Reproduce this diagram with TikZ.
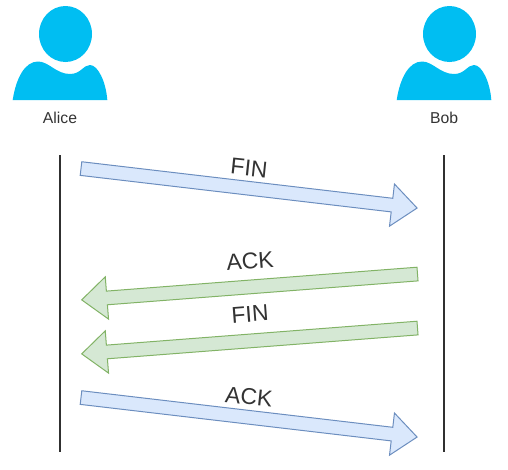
\documentclass[tikz,border=0pt]{standalone}
\usepackage{fontspec}
\setmainfont{Liberation Sans}
\usetikzlibrary{shapes.arrows}
\definecolor{pessoa}{HTML}{00BEF2}
\definecolor{azulfill}{HTML}{DAE8FC}
\definecolor{azuldraw}{HTML}{6C8EBF}
\definecolor{verdefill}{HTML}{D5E8D4}
\definecolor{verdedraw}{HTML}{82B366}
\definecolor{linha}{HTML}{303030}
\begin{document}
\begin{tikzpicture}[
    x=0.25mm, y=-0.25mm,
    seta/.style={single arrow, anchor=tail, inner sep=1.5mm, minimum height=84.6mm,
      minimum width=10.6mm, single arrow head extend=3.4mm, single arrow tip angle=80,
      single arrow head indent=0pt, line width=0.25mm},
    setaazul/.style={seta, draw=azuldraw, fill=azulfill, rotate=-6.7},
    setaverde/.style={seta, draw=verdedraw, fill=verdefill, rotate=184.4, minimum height=84.2mm},
    rotulo/.style={font=\fontsize{16.3pt}{18pt}\selectfont, text=black!80, inner sep=1pt},
    nome/.style={font=\fontsize{11.2pt}{13pt}\selectfont, text=black!80, inner sep=1pt},
    vida/.style={line width=0.7mm, color=linha},
  ]
  \useasboundingbox (0,0) rectangle (508,469);

  % Pessoas
  \foreach \dx/\id/\texto in {0/alice/Alice,384/bob/Bob} {
    \fill[pessoa] (65.5+\dx,34) ellipse [x radius=26.5, y radius=28];
    \fill[pessoa] (12.7+\dx,100) .. controls (16+\dx,78) and (25+\dx,61.5) .. (38+\dx,61.5)
      .. controls (49+\dx,61.5) and (56+\dx,74) .. (70+\dx,74)
      .. controls (81+\dx,74) and (83+\dx,65) .. (90+\dx,65)
      .. controls (98+\dx,65) and (106+\dx,82) .. (107.3+\dx,100) -- cycle;
    \node[nome] (\id) at (60+\dx,118) {\texto};
    \coordinate (\id-topo) at (60+\dx,155);
    \coordinate (\id-base) at (60+\dx,452);
    \draw[vida] (\id-topo) -- (\id-base);
  }

  % Segmentos
  \node[setaazul] (fin1) at (80.5,168.5) {};
  \node[setaverde] (ack1) at (418,274) {};
  \node[setaverde] (fin2) at (418,328) {};
  \node[setaazul] (ack2) at (80.5,397.5) {};

  % Rotulos
  \node[rotulo, rotate=-6] (fin1txt) at (249,168) {FIN};
  \node[rotulo, rotate=4.4] (ack1txt) at (250,261) {ACK};
  \node[rotulo, rotate=4.4] (fin2txt) at (250,314) {FIN};
  \node[rotulo, rotate=-6] (ack2txt) at (249,397) {ACK};
\end{tikzpicture}
\end{document}
